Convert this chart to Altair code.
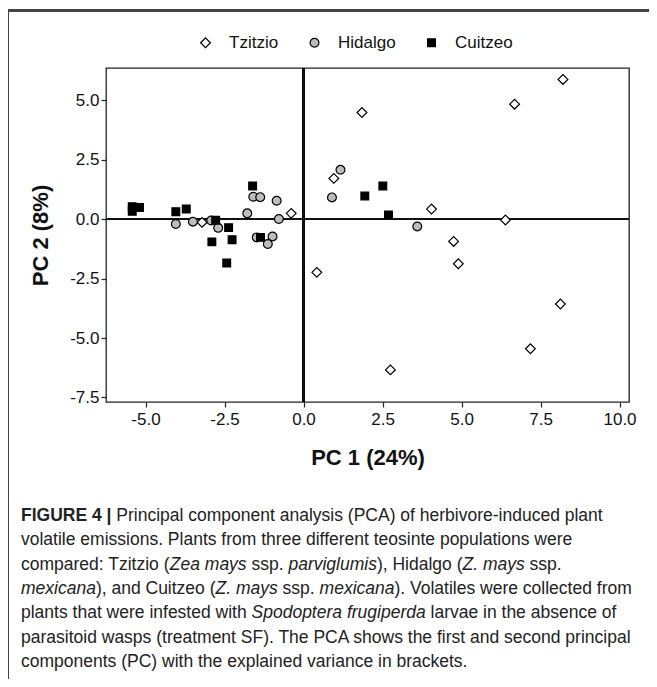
import altair as alt
import pandas as pd

groups = ["Tzitzio", "Hidalgo", "Cuitzeo"]

tz_x = [8.21, 6.68, 1.85, 0.96, 4.05, 6.39, 4.75, 4.90, 0.42, 8.13, 7.18, 2.75, -3.21, -0.39]
tz_y = [5.87, 4.83, 4.48, 1.71, 0.42, -0.04, -0.94, -1.88, -2.24, -3.57, -5.45, -6.34, -0.14, 0.24]
hi_x = [1.17, 0.90, 3.60, -4.04, -3.50, -2.92, -2.70, -1.78, -1.59, -1.37, -0.85, -0.78, -1.48, -0.98, -1.13]
hi_y = [2.07, 0.91, -0.31, -0.21, -0.11, -0.06, -0.37, 0.24, 0.94, 0.92, 0.77, 0.00, -0.77, -0.73, -1.05]
cu_x = [2.51, 1.94, 2.69, -5.42, -5.42, -5.19, -4.04, -3.71, -2.78, -2.90, -2.37, -2.26, -2.43, -1.61, -1.36]
cu_y = [1.39, 0.97, 0.17, 0.52, 0.33, 0.49, 0.31, 0.42, -0.05, -0.96, -0.36, -0.87, -1.85, 1.39, -0.77]

x_ticks = [-5.0, -2.5, 0.0, 2.5, 5.0, 7.5, 10.0]
y_ticks = [-7.5, -5.0, -2.5, 0.0, 2.5, 5.0]

caption_lines = [
    [("FIGURE 4 | ", "bold"), ("Principal component analysis (PCA) of herbivore-induced plant", "normal")],
    [("volatile emissions. Plants from three different teosinte populations were", "normal")],
    [("compared: Tzitzio (", "normal"), ("Zea mays", "italic"), (" ssp. ", "normal"),
     ("parviglumis", "italic"), ("), Hidalgo (", "normal"), ("Z. mays", "italic"), (" ssp.", "normal")],
    [("mexicana", "italic"), ("), and Cuitzeo (", "normal"), ("Z. mays", "italic"), (" ssp. ", "normal"),
     ("mexicana", "italic"), ("). Volatiles were collected from", "normal")],
    [("plants that were infested with ", "normal"), ("Spodoptera frugiperda", "italic"),
     (" larvae in the absence of", "normal")],
    [("parasitoid wasps (treatment SF). The PCA shows the first and second principal", "normal")],
    [("components (PC) with the explained variance in brackets.", "normal")],
]

# Helvetica / Arial advance widths (1/1000 em) used to place caption runs
REG = {" ": 278, "(": 333, ")": 333, ",": 278, "-": 333, ".": 278, ":": 278, "|": 260, "%": 889}
for ch in "0123456789":
    REG[ch] = 556
REG.update(dict(zip("ABCDEFGHIJKLMNOPQRSTUVWXYZ",
                    [667, 667, 722, 722, 667, 611, 778, 722, 278, 500, 667, 556, 833, 722, 778, 667,
                     778, 722, 667, 611, 722, 667, 944, 667, 667, 611])))
REG.update(dict(zip("abcdefghijklmnopqrstuvwxyz",
                    [556, 556, 500, 556, 556, 278, 556, 556, 222, 222, 500, 222, 833, 556, 556, 556,
                     556, 333, 500, 278, 556, 500, 722, 500, 500, 500])))
BOLD = {" ": 278, "|": 280, "4": 556, "F": 611, "I": 278, "G": 778, "U": 722, "R": 722, "E": 667}

CAP_SIZE = 17.5
CAP_X0 = -85
CAP_Y0 = 448
CAP_DY = 24.3


def run_width(text, style):
    table = BOLD if style == "bold" else REG
    return sum(table.get(c, 556) for c in text) * CAP_SIZE / 1000.0


rows = []
for i, line in enumerate(caption_lines):
    pos = CAP_X0
    for text, style in line:
        lead = len(text) - len(text.lstrip(" "))
        start = pos + run_width(text[:lead], style)
        rows.append({"cx": start, "cy": CAP_Y0 + i * CAP_DY, "t": text.strip(" "), "style": style})
        pos += run_width(text, style)
cap_df = pd.DataFrame(rows)

pts = pd.DataFrame(
    [{"x": a, "y": b, "group": "Tzitzio"} for a, b in zip(tz_x, tz_y)]
    + [{"x": a, "y": b, "group": "Hidalgo"} for a, b in zip(hi_x, hi_y)]
    + [{"x": a, "y": b, "group": "Cuitzeo"} for a, b in zip(cu_x, cu_y)]
)

FONT = "Liberation Sans"
LABEL_EXPR = "replace(format(datum.value, '.1f'), '\u2212', '-')"

xscale = alt.Scale(domain=[-6.25, 10.30], nice=False, zero=False)
yscale = alt.Scale(domain=[-7.69, 6.35], nice=False, zero=False)

leg = alt.Legend(
    title=None, orient="none", direction="horizontal", legendX=91, legendY=-34,
    columnPadding=27, labelOffset=15, symbolStrokeWidth=1.2, symbolOpacity=1,
)

points = alt.Chart(pts).mark_point(filled=True, opacity=1, strokeWidth=1.2).encode(
    x=alt.X("x:Q", scale=xscale,
            axis=alt.Axis(title="PC 1 (24%)", values=x_ticks, labelExpr=LABEL_EXPR, titlePadding=20,
                          labelPadding=4)),
    y=alt.Y("y:Q", scale=yscale,
            axis=alt.Axis(title="PC 2 (8%)", values=y_ticks, labelExpr=LABEL_EXPR, titlePadding=17,
                          labelPadding=2)),
    shape=alt.Shape("group:N", scale=alt.Scale(domain=groups, range=["diamond", "circle", "square"]),
                    legend=leg),
    fill=alt.Fill("group:N", scale=alt.Scale(domain=groups, range=["white", "#bdbdbd", "black"]),
                  legend=leg),
    stroke=alt.Stroke("group:N", scale=alt.Scale(domain=groups, range=["black", "black", "black"]),
                      legend=leg),
    size=alt.Size("group:N", scale=alt.Scale(domain=groups, range=[95, 60, 56]), legend=leg),
)

vline = alt.Chart(pts).mark_rule(color="#111", strokeWidth=1.2).encode(x=alt.datum(0))
hline = alt.Chart(pts).mark_rule(color="#111", strokeWidth=1.2).encode(y=alt.datum(0))

border_top = alt.Chart(pts).mark_rule(color="#444", strokeWidth=1.3).encode(
    x=alt.value(-98.5), x2=alt.value(560), y=alt.value(-57.5))
border_left = alt.Chart(pts).mark_rule(color="#444", strokeWidth=1.3).encode(
    x=alt.value(-98.5), y=alt.value(-57.5), y2=alt.value(625))


def cap_layer(style, weight, fstyle):
    return alt.Chart(cap_df).transform_filter(alt.datum.style == style).mark_text(
        align="left", baseline="middle", font=FONT, fontSize=CAP_SIZE, color="#222",
        fontWeight=weight, fontStyle=fstyle
    ).encode(
        x=alt.X("cx:Q", scale=None, axis=None),
        y=alt.Y("cy:Q", scale=None, axis=None),
        text="t:N",
    )


caption = cap_layer("normal", "normal", "normal") + cap_layer("italic", "normal", "italic") + \
    cap_layer("bold", "bold", "normal")

chart = alt.layer(hline, vline, points, border_top, border_left, caption).properties(
    width=523, height=334,
    autosize=alt.AutoSizeParams(type="none"),
    padding={"left": 98, "top": 60, "right": 20, "bottom": 277},
    background="white",
).configure_view(stroke="#222", strokeWidth=1.3).configure_axis(
    grid=False, domain=False, ticks=True, tickColor="#222", tickSize=5, tickWidth=1.2,
    labelFont=FONT, labelFontSize=17, labelColor="#111",
    titleFont=FONT, titleFontSize=22, titleFontWeight="bold", titleColor="#111",
).configure_legend(
    labelFont=FONT, labelFontSize=17, labelColor="#111",
)

chart.save("out.html", embed_options={"renderer": "svg", "actions": False})
